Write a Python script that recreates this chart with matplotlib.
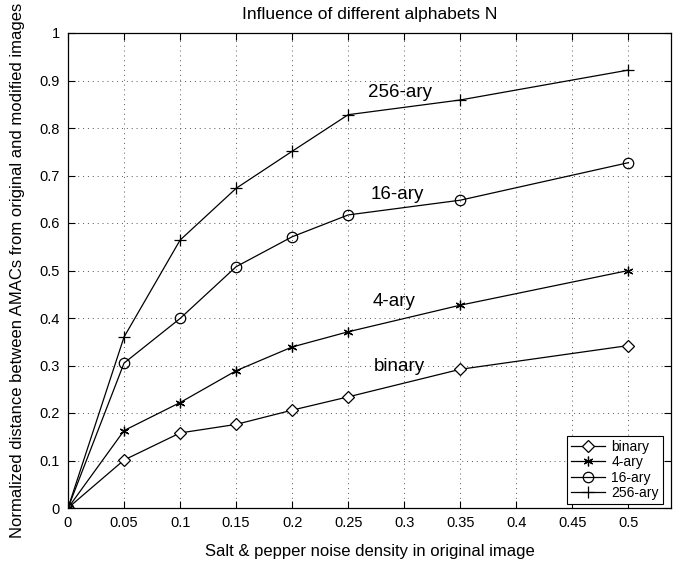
import matplotlib
matplotlib.use("Agg")
import matplotlib.pyplot as plt

plt.rcParams['font.family'] = ['Liberation Sans', 'DejaVu Sans']

x = [0, 0.05, 0.1, 0.15, 0.2, 0.25, 0.35, 0.5]
binary = [0, 0.101, 0.158, 0.176, 0.206, 0.234, 0.292, 0.342]
ary4 = [0, 0.163, 0.222, 0.289, 0.339, 0.371, 0.427, 0.500]
ary16 = [0, 0.305, 0.399, 0.508, 0.571, 0.617, 0.648, 0.727]
ary256 = [0, 0.360, 0.564, 0.673, 0.751, 0.828, 0.859, 0.922]
series_names = ['binary', '4-ary', '16-ary', '256-ary']
xticks = [0, 0.05, 0.1, 0.15, 0.2, 0.25, 0.3, 0.35, 0.4, 0.45, 0.5]
xticklabels = ['0', '0.05', '0.1', '0.15', '0.2', '0.25', '0.3', '0.35', '0.4', '0.45', '0.5']
yticks = [0, 0.1, 0.2, 0.3, 0.4, 0.5, 0.6, 0.7, 0.8, 0.9, 1]
yticklabels = ['0', '0.1', '0.2', '0.3', '0.4', '0.5', '0.6', '0.7', '0.8', '0.9', '1']
annotations = [('256-ary', 0.268, 0.874), ('16-ary', 0.270, 0.661),
               ('4-ary', 0.272, 0.434), ('binary', 0.273, 0.297)]

fig = plt.figure(figsize=(6.9, 5.63), dpi=100)
ax = fig.add_axes([68/690, 1-508/563, (671-68)/690, (508-33)/563])

lw = 0.9
ax.plot(x, binary, color='black', lw=lw, marker='D', ms=6, mfc='white', mec='black', mew=0.9, label=series_names[0])
ax.plot(x, ary4, color='black', lw=lw, marker=(6, 2, 0), ms=7, mec='black', mew=0.9, label=series_names[1])
ax.plot(x, ary16, color='black', lw=lw, marker='o', ms=7.5, mfc='none', mec='black', mew=0.9, label=series_names[2])
ax.plot(x, ary256, color='black', lw=lw, marker='+', ms=9, mec='black', mew=0.9, label=series_names[3])

for txt, tx, ty in annotations:
    ax.text(tx, ty, txt, fontsize=13.5, va='center', ha='left')

ax.set_xlim(0, 0.538)
ax.set_ylim(0, 1)
ax.set_xticks(xticks)
ax.set_xticklabels(xticklabels)
ax.set_yticks(yticks)
ax.set_yticklabels(yticklabels)
ax.tick_params(direction='in', top=True, right=True, labelsize=10.5, length=5, width=0.8, pad=6)
ax.grid(True, linestyle=(0, (1, 4)), color='#555555', linewidth=0.7)
for s in ax.spines.values():
    s.set_linewidth(0.9)

ax.set_title('Influence of different alphabets N', fontsize=12.5, pad=10)
ax.set_xlabel('Salt & pepper noise density in original image', fontsize=12, labelpad=10)
ax.set_ylabel('Normalized distance between AMACs from original and modified images', fontsize=12, labelpad=10)

leg = ax.legend(loc='lower right', bbox_to_anchor=(0.987, 0.008), fontsize=10,
                frameon=True, fancybox=False, edgecolor='black', framealpha=1,
                borderpad=0.3, labelspacing=0.1, handlelength=2.4, handletextpad=0.5,
                borderaxespad=0)
leg.get_frame().set_linewidth(0.8)

fig.savefig('out.png', dpi=100)
